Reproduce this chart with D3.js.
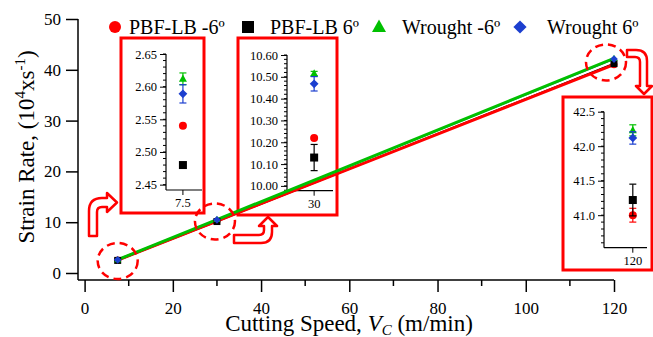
<!DOCTYPE html>
<html lang="en">
<head>
<meta charset="utf-8">
<title>Strain rate vs cutting speed</title>
<script src="https://cdn.jsdelivr.net/npm/d3@7/dist/d3.min.js"></script>
<style>
  body { margin: 0; background: #fff; }
  svg text { font-family: "Liberation Serif", "Times New Roman", serif !important; fill: #000; }
</style>
</head>
<body>
<svg width="653" height="337"></svg>
<script>
// data
var speeds = [7.5, 30, 120];
var seriesNames = ["PBF-LB -6º", "PBF-LB 6º", "Wrought -6º", "Wrought 6º"];
var pbfNeg = [2.54, 10.22, 41.00];
var pbfPos = [2.48, 10.13, 41.22];
var wroNeg = [2.612, 10.515, 42.23];
var wroPos = [2.589, 10.468, 42.12];
var pbfNegErr = [0, 0, 0.10];
var pbfPosErr = [0, 0.06, 0.23];
var wroNegErr = [0.009, 0.010, 0.08];
var wroPosErr = [0.014, 0.033, 0.09];

var xTicks = [0, 20, 40, 60, 80, 100, 120];
var xMinor = [10, 30, 50, 70, 90, 110];
var yTicks = [0, 10, 20, 30, 40, 50];

var inset1Ticks = [2.45, 2.50, 2.55, 2.60, 2.65];
var inset2Ticks = [10.00, 10.10, 10.20, 10.30, 10.40, 10.50, 10.60];
var inset3Ticks = [41.0, 41.5, 42.0, 42.5];

var colors = ["#ff0000", "#000000", "#00c000", "#1c3fcf"];
var shapes = ["circle", "square", "triangle", "diamond"];
var allVals = [pbfNeg, pbfPos, wroNeg, wroPos];
var allErrs = [pbfNegErr, pbfPosErr, wroNegErr, wroPosErr];

var series = seriesNames.map(function(n, i) {
  return {name: n, color: colors[i], shape: shapes[i],
          pts: speeds.map(function(s, j) { return {x: s, y: allVals[i][j], e: allErrs[i][j]}; })};
});

var FONT = '"Liberation Serif", "Times New Roman", serif';
var svg = d3.select("svg");

function marker(sel, shape, s, color) {
  // s ~ overall width in px
  if (shape == "circle") {
    sel.append("circle").attr("r", s / 2).attr("fill", color);
  } else if (shape == "square") {
    sel.append("rect").attr("x", -s / 2).attr("y", -s / 2).attr("width", s).attr("height", s).attr("fill", color);
  } else if (shape == "triangle") {
    var h = s * 0.9;
    sel.append("path").attr("d", "M0," + (-h * 0.6) + "L" + (s / 2) + "," + (h * 0.4) + "L" + (-s / 2) + "," + (h * 0.4) + "Z").attr("fill", color);
  } else {
    var r = s * 0.55;
    sel.append("path").attr("d", "M0," + (-r) + "L" + r + ",0L0," + r + "L" + (-r) + ",0Z").attr("fill", color);
  }
}

// ---- main axes
var x = d3.scaleLinear().domain([0, 120]).range([84.6, 614]);
var y = d3.scaleLinear().domain([0, 50]).range([273, 19]);
var axisY = 280, axisX = 78;

var gy = svg.append("g").attr("transform", "translate(" + axisX + ",0)")
  .call(d3.axisLeft(y).tickValues(yTicks).tickSize(12).tickPadding(5).tickSizeOuter(0));
gy.select(".domain").remove();
gy.append("line").attr("y1", y(50)).attr("y2", axisY).attr("stroke", "#000").attr("stroke-width", 1.5);

var gx = svg.append("g").attr("transform", "translate(0," + axisY + ")")
  .call(d3.axisBottom(x).tickValues(xTicks).tickSize(12).tickPadding(10).tickSizeOuter(0));
gx.select(".domain").remove();
gx.append("line").attr("x1", axisX).attr("x2", x(120)).attr("stroke", "#000").attr("stroke-width", 1.5);
gx.selectAll(".minor").data(xMinor).enter().append("line")
  .attr("x1", function(d) { return x(d); }).attr("x2", function(d) { return x(d); })
  .attr("y2", 6).attr("stroke", "#000").attr("stroke-width", 1.5);

[gx, gy].forEach(function(g) {
  g.attr("font-family", FONT);
  g.selectAll(".tick line").attr("stroke-width", 1.5);
  g.selectAll(".tick text").style("font-size", "17px").style("font-family", FONT);
});

svg.append("text")
  .attr("transform", "translate(34,147) rotate(-90)")
  .attr("text-anchor", "middle").style("font-size", "23px")
  .call(function(t) {
    t.append("tspan").text("Strain Rate, (10");
    t.append("tspan").attr("dy", -9).style("font-size", "15px").text("4");
    t.append("tspan").attr("dy", 9).text("xs");
    t.append("tspan").attr("dy", -9).style("font-size", "15px").text("-1");
    t.append("tspan").attr("dy", 9).text(")");
  });

svg.append("text")
  .attr("x", 349).attr("y", 331)
  .attr("text-anchor", "middle").style("font-size", "23px")
  .call(function(t) {
    t.append("tspan").text("Cutting Speed, ");
    t.append("tspan").style("font-style", "italic").text("V");
    t.append("tspan").attr("dy", 4).style("font-style", "italic").style("font-size", "15px").text("C");
    t.append("tspan").attr("dy", -4).text(" (m/min)");
  });

// ---- insets
var insets = [
  {idx: 0, box: [121, 38, 204, 213], ax: 166, top: 54, bot: 190, xr: 202, frac: 0.47, dom: [2.4418, 2.65], ticks: inset1Ticks, minor: 0.01, fmt: ".2f", xlab: "7.5"},
  {idx: 1, box: [238, 38, 337, 215], ax: 287, top: 55, bot: 190.7, xr: 333, frac: 0.59, dom: [9.978, 10.60], ticks: inset2Ticks, minor: 0.02, fmt: ".2f", xlab: "30"},
  {idx: 2, box: [563, 97, 652, 270], ax: 604, top: 111.7, bot: 247.7, xr: 647, frac: 0.67, dom: [40.529, 42.5], ticks: inset3Ticks, minor: 0.1, fmt: ".1f", xlab: "120"}
];

insets.forEach(function(c) {
  var g = svg.append("g");
  g.append("rect").attr("x", c.box[0]).attr("y", c.box[1])
    .attr("width", c.box[2] - c.box[0]).attr("height", c.box[3] - c.box[1])
    .attr("fill", "#fff").attr("stroke", "#ff0000").attr("stroke-width", 3);

  var iy = d3.scaleLinear().domain(c.dom).range([c.bot, c.top]);
  var sp = speeds[c.idx];
  var ix = d3.scaleLinear().domain([sp - c.frac, sp + 1 - c.frac]).range([c.ax, c.xr]);

  var ga = g.append("g").attr("transform", "translate(" + c.ax + ",0)")
    .call(d3.axisLeft(iy).tickValues(c.ticks).tickFormat(d3.format(c.fmt)).tickSize(6).tickPadding(3).tickSizeOuter(0));
  ga.select(".domain").remove();
  ga.attr("font-family", FONT);
  ga.selectAll(".tick text").style("font-size", "12.5px").style("font-family", FONT);
  var minorVals = d3.range(Math.ceil(c.dom[0] / c.minor - 1e-6), Math.floor(c.dom[1] / c.minor + 1e-6) + 1)
    .map(function(k) { return k * c.minor; });
  ga.selectAll(".mt").data(minorVals).enter().append("line")
    .attr("x1", -3).attr("y1", function(d) { return iy(d); }).attr("y2", function(d) { return iy(d); })
    .attr("stroke", "#000");
  g.append("line").attr("x1", c.ax).attr("x2", c.ax).attr("y1", c.top).attr("y2", c.bot).attr("stroke", "#000").attr("stroke-width", 1.2);
  g.append("line").attr("x1", c.ax).attr("x2", c.xr).attr("y1", c.bot).attr("y2", c.bot).attr("stroke", "#000").attr("stroke-width", 1.2);
  g.append("line").attr("x1", ix(sp)).attr("x2", ix(sp)).attr("y1", c.bot).attr("y2", c.bot + 5).attr("stroke", "#000");
  g.append("text").attr("x", ix(sp)).attr("y", c.bot + 17).attr("text-anchor", "middle")
    .style("font-size", "12.5px").text(c.xlab);

  series.forEach(function(s) {
    var p = s.pts[c.idx];
    if (p.e > 0) {
      var eg = g.append("g").attr("stroke", s.color).attr("stroke-width", 1.2);
      eg.append("line").attr("x1", ix(sp)).attr("x2", ix(sp)).attr("y1", iy(p.y - p.e)).attr("y2", iy(p.y + p.e));
      [p.y - p.e, p.y + p.e].forEach(function(v) {
        eg.append("line").attr("x1", ix(sp) - 3.5).attr("x2", ix(sp) + 3.5).attr("y1", iy(v)).attr("y2", iy(v));
      });
    }
    var mg = g.append("g").attr("transform", "translate(" + ix(sp) + "," + iy(p.y) + ")");
    marker(mg, s.shape, 8, s.color);
  });
});

// ---- main lines and markers
var line = d3.line().x(function(d) { return x(d.x); }).y(function(d) { return y(d.y); });
var lineOrder = [3, 1, 0, 2];
var lineWidths = [3, 1.6, 3, 1.6];
lineOrder.forEach(function(i) {
  svg.append("path").datum(series[i].pts).attr("d", line)
    .attr("fill", "none").attr("stroke", series[i].color).attr("stroke-width", lineWidths[i]);
});
[0, 1, 2, 3].forEach(function(i) {
  series[i].pts.forEach(function(p) {
    var mg = svg.append("g").attr("transform", "translate(" + x(p.x) + "," + y(p.y) + ")");
    marker(mg, series[i].shape, 7, series[i].color);
  });
});

// ---- dashed circles around the points
var circleShift = [0, -2, -8];
speeds.forEach(function(s, j) {
  var mean = d3.mean(allVals, function(v) { return v[j]; });
  svg.append("ellipse").attr("cx", x(s) + circleShift[j]).attr("cy", y(mean) + 1)
    .attr("rx", 20).attr("ry", 18).attr("fill", "none")
    .attr("stroke", "#ff0000").attr("stroke-width", 2.5).attr("stroke-dasharray", "8,5");
});

// ---- hollow bent arrows
var arrows = [
  "M89,236 L89,211 Q89,198 102,198 L107,198 L107,193 L117,202.5 L107,212 L107,207 L102,207 Q97,207 97,212 L97,236 Z",
  "M234,235 L259,235 Q264,235 264,230 L264,226 L259,226 L268,217 L277,226 L272,226 L272,232 Q272,243 261,243 L234,243 Z",
  "M627,50 L636,50 Q647,50 647,61 L647,86 L652,86 L644,94 L636,86 L640,86 L640,62 Q640,57 635,57 L627,57 Z"
];
svg.selectAll(".arrow").data(arrows).enter().append("path")
  .attr("d", function(d) { return d; })
  .attr("fill", "#fff").attr("stroke", "#ff0000").attr("stroke-width", 2.5).attr("stroke-linejoin", "round");

// ---- legend
var legX = [115, 248, 379, 520];
var legTextX = [14, 22, 23, 27];
var legSizes = [12, 12, 14, 12];
series.forEach(function(s, i) {
  var lg = svg.append("g").attr("transform", "translate(" + legX[i] + ",27)");
  marker(lg, s.shape, legSizes[i], s.color);
  lg.append("text").attr("x", legTextX[i]).attr("y", 6.5)
    .style("font-size", "20px").text(s.name);
});
</script>
</body>
</html>
